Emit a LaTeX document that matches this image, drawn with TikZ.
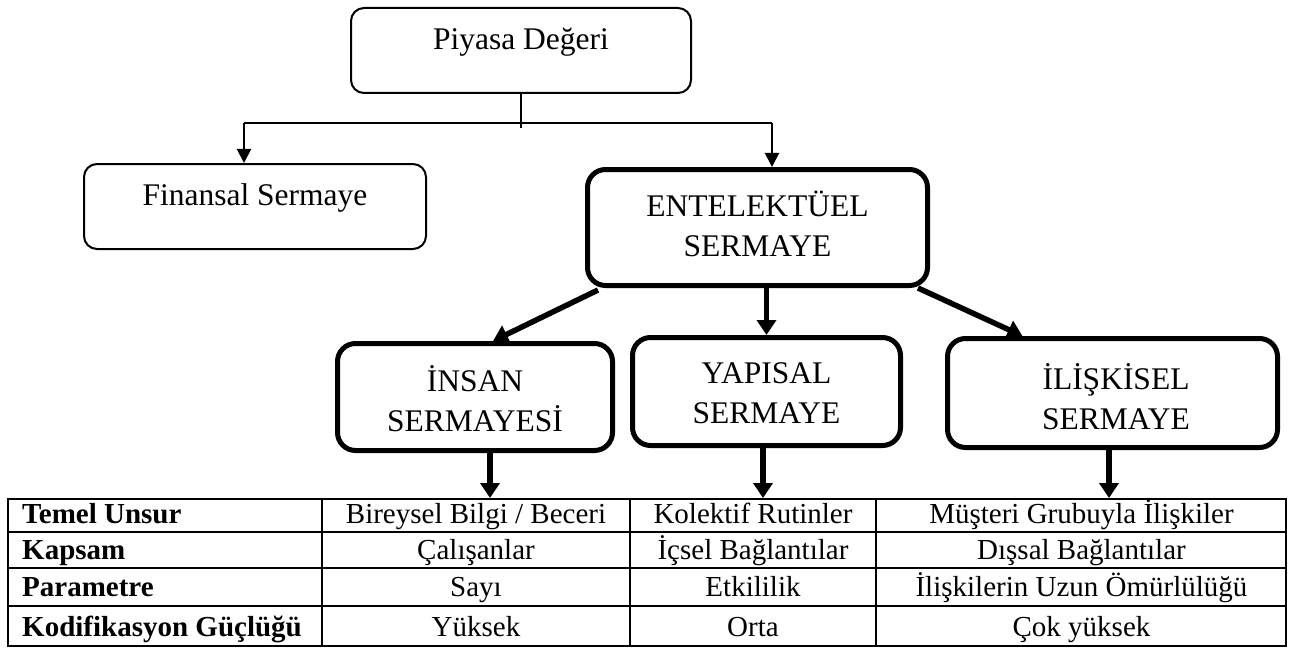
\documentclass[tikz,border=0pt]{standalone}
\usepackage{fontspec}
\setmainfont{Liberation Serif}
\usetikzlibrary{arrows.meta,calc}
\begin{document}
\begin{tikzpicture}[x=1pt,y=-1pt,
  thinbox/.style={draw, line width=2pt, rounded corners=13pt, inner sep=0pt},
  thickbox/.style={draw, line width=5pt, rounded corners=18pt, inner sep=0pt},
  boxtext/.style={font=\fontsize{31.5}{40}\selectfont, align=center, inner sep=0pt},
  conn/.style={line width=1.2pt},
  thinarrow/.style={line width=2pt, -{Triangle[length=14pt,width=14pt]}},
  thickarrow/.style={line width=5.5pt, -{Triangle[length=15pt,width=19pt]}},
  cell/.style={font=\fontsize{29}{34}\selectfont, anchor=base, inner sep=0pt},
  headcell/.style={font=\fontsize{29}{34}\selectfont\bfseries, anchor=base west, inner sep=0pt},
  gridline/.style={line width=2pt}
]
\useasboundingbox (0,0) rectangle (1293,650);

% boxes
\node[thinbox, minimum width=340pt, minimum height=85pt] (pd) at (521,50.5) {};
\node[boxtext] (pdT) at (521,42) {Piyasa Değeri};
\node[thinbox, minimum width=342pt, minimum height=85pt] (fin) at (255,206.5) {};
\node[boxtext] (finT) at (255,198) {Finansal Sermaye};
\node[thickbox, minimum width=340pt, minimum height=116pt] (ent) at (757.5,227.5) {};
\node[boxtext] (entT) at (757.5,224) {ENTELEKTÜEL\\SERMAYE};
\node[thickbox, minimum width=275pt, minimum height=107pt] (ins) at (475,397) {};
\node[boxtext] (insT) at (475,399) {İNSAN\\SERMAYESİ};
\node[thickbox, minimum width=268pt, minimum height=108pt] (yap) at (766.5,391.5) {};
\node[boxtext] (yapT) at (766.5,393) {YAPISAL\\SERMAYE};
\node[thickbox, minimum width=330pt, minimum height=109pt] (ili) at (1112.5,393) {};
\node[boxtext] (iliT) at (1116,397) {İLİŞKİSEL\\SERMAYE};

% table
\node[draw, line width=2pt, minimum width=1278pt, minimum height=147pt, inner sep=0pt] (tbl) at (647,572.5) {};
\foreach \yy in {532,568,606} \draw[gridline] (8,\yy) -- (1286,\yy);
\foreach \xx in {322,630,876} \draw[gridline] (\xx,498) -- (\xx,647);

\node[headcell] (h1) at (22,523) {Temel Unsur};
\node[headcell] (h2) at (22,559) {Kapsam};
\node[headcell] (h3) at (22,596) {Parametre};
\node[headcell] (h4) at (22,636) {Kodifikasyon Güçlüğü};
\node[cell] (b1) at (476,523) {Bireysel Bilgi / Beceri};
\node[cell] (b2) at (476,559) {Çalışanlar};
\node[cell] (b3) at (476,596) {Sayı};
\node[cell] (b4) at (476,636) {Yüksek};
\node[cell] (c1) at (753,523) {Kolektif Rutinler};
\node[cell] (c2) at (753,559) {İçsel Bağlantılar};
\node[cell] (c3) at (753,596) {Etkililik};
\node[cell] (c4) at (753,636) {Orta};
\node[cell] (d1) at (1081.5,523) {Müşteri Grubuyla İlişkiler};
\node[cell] (d2) at (1081.5,559) {Dışsal Bağlantılar};
\node[cell] (d3) at (1081.5,596) {İlişkilerin Uzun Ömürlülüğü};
\node[cell] (d4) at (1081.5,636) {Çok yüksek};

% thin connectors
\coordinate (hl) at (244,123);
\coordinate (hr) at (772,123);
\draw[conn] (hl) -- (hr);
\draw[conn] (pd.south) -- ++(0,34);
\draw[thinarrow] (hl) -- (hl |- fin.north);
\draw[thinarrow] (hr) -- (hr |- ent.north);

% thick arrows
\draw[thickarrow] ($(ent.south west)+(13,2)$) -- ($(ins.north)+(18,0)$);
\draw[thickarrow] (yap.north |- ent.south) -- (yap.north);
\draw[thickarrow] ($(ent.south east)+(-12,0)$) -- ($(ili.north)+(-90,0)$);

\coordinate (a1) at ($(ins.south)+(15,0)$);
\coordinate (a2) at ($(yap.south)+(-3.5,0)$);
\coordinate (a3) at ($(ili.south)+(-3.5,0)$);
\draw[thickarrow] (a1) -- (a1 |- tbl.north);
\draw[thickarrow] (a2) -- (a2 |- tbl.north);
\draw[thickarrow] (a3) -- (a3 |- tbl.north);
\end{tikzpicture}
\end{document}
